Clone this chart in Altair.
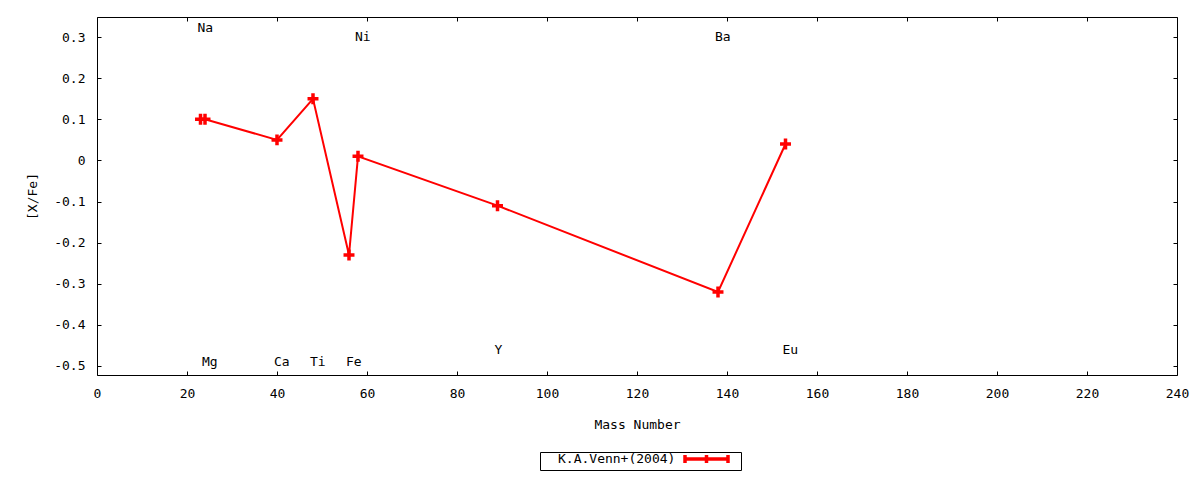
import altair as alt
import pandas as pd

# data
elements = ["Na", "Mg", "Ca", "Ti", "Fe", "Ni", "Y", "Ba", "Eu"]
mass = [23, 24, 40, 48, 56, 58, 89, 138, 153]
xfe = [0.10, 0.10, 0.05, 0.15, -0.23, 0.01, -0.11, -0.32, 0.04]
label_y = [0.323, -0.49, -0.49, -0.49, -0.49, 0.30, -0.46, 0.30, -0.46]
series = "K.A.Venn+(2004)"

x_ticks = list(range(0, 241, 20))
y_ticks = [-0.5, -0.4, -0.3, -0.2, -0.1, 0.0, 0.1, 0.2, 0.3]

df = pd.DataFrame({"mass": mass, "xfe": xfe, "element": elements,
                   "ly": label_y, "series": [series] * len(mass)})

FONT = "DejaVu Sans Mono"
xscale = alt.Scale(domain=[0, 240], nice=False, zero=False)
yscale = alt.Scale(domain=[-0.522, 0.349], nice=False, zero=False)
lab = "replace(format(datum.value, '.1~f'), '\u2212', '-')"

base = alt.Chart(df)

line = base.mark_line(color="#ff0000", strokeWidth=2).encode(
    x=alt.X("mass:Q", scale=xscale, axis=alt.Axis(
        orient="bottom", values=x_ticks, ticks=False, tickSize=0, domain=False,
        grid=False, labelPadding=12, labelFlush=False, labelOverlap=False,
        title="Mass Number", titlePadding=18,
        labelFont=FONT, labelFontSize=13, titleFont=FONT, titleFontSize=13,
        titleFontWeight="normal", labelColor="black", titleColor="black")),
    y=alt.Y("xfe:Q", scale=yscale, axis=alt.Axis(
        orient="left", values=y_ticks, ticks=False, tickSize=0, domain=False,
        grid=False, labelPadding=12, labelExpr=lab, labelFlush=False,
        labelOverlap=False, title="[X/Fe]",
        titlePadding=14, labelFont=FONT, labelFontSize=13, titleFont=FONT,
        titleFontSize=13, titleFontWeight="normal", labelColor="black",
        titleColor="black")),
    color=alt.Color("series:N", scale=alt.Scale(domain=[series], range=["#ff0000"]),
                    legend=alt.Legend(
                        title=None, orient="none", legendX=443, legendY=435,
                        strokeColor="black", padding=0, fillColor="white",
                        symbolType="M-4.3,0L4.3,0M-4.3,-0.8L-4.3,0.8M4.3,-0.8L4.3,0.8M0,-0.8L0,0.8M5.5,0",
                        symbolSize=100, symbolStrokeWidth=3.5,
                        symbolOffset=159.5, labelOffset={"expr": "-155.5"},
                        labelFont=FONT, labelFontSize=13, labelColor="black")),
)

points = base.mark_point(
    shape="M-1,0L1,0M0,-1L0,1", size=120, strokeWidth=3.5, filled=False,
    color="#ff0000", opacity=1).encode(
    x=alt.X("mass:Q", scale=xscale, axis=alt.Axis(
        orient="bottom", values=x_ticks, labels=False, domain=False, grid=False,
        ticks=True, tickSize=4, offset=-4, tickColor="black", title=None)),
    y=alt.Y("xfe:Q", scale=yscale, axis=alt.Axis(
        orient="left", values=y_ticks, labels=False, domain=False, grid=False,
        ticks=True, tickSize=4, offset=-4, tickColor="black", title=None)),
)

texts = base.mark_text(align="left", baseline="middle", dx=-3, font=FONT,
                       fontSize=13, color="black").encode(
    x=alt.X("mass:Q", scale=xscale, axis=alt.Axis(
        orient="top", values=x_ticks, labels=False, domain=False, grid=False,
        ticks=True, tickSize=4, offset=-4, tickColor="black", title=None)),
    y=alt.Y("ly:Q", scale=yscale, axis=alt.Axis(
        orient="right", values=y_ticks, labels=False, domain=False, grid=False,
        ticks=True, tickSize=4, offset=-4, tickColor="black", title=None)),
    text="element:N",
)

chart = alt.layer(line, points, texts).resolve_axis(
    x="independent", y="independent"
).properties(
    width=1080, height=358,
    autosize=alt.AutoSizeParams(type="none"),
    padding={"left": 89, "top": 9, "right": 15, "bottom": 97},
    background="white",
).configure_view(stroke="black", strokeWidth=1)

chart.save("out.html", embed_options={"renderer": "svg", "actions": False})
